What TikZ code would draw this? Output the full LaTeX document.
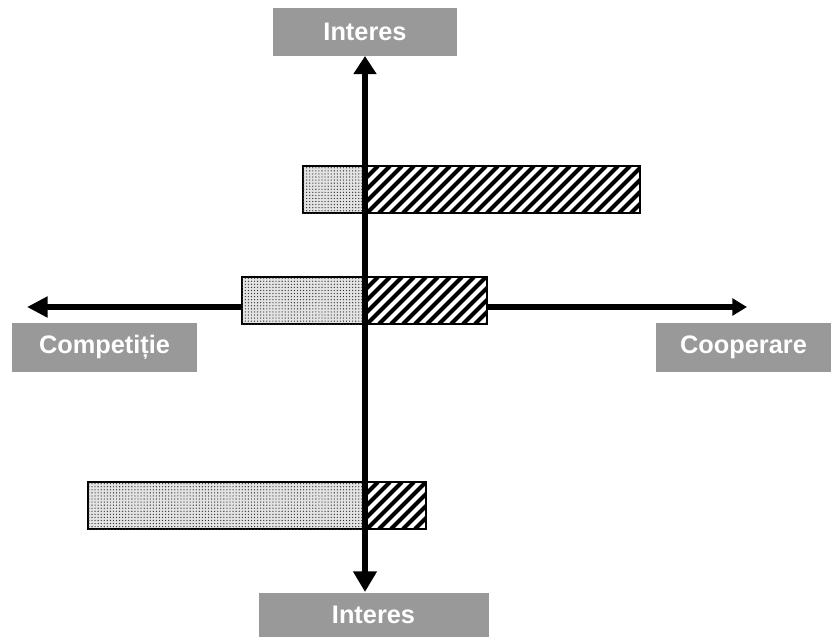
\documentclass[tikz,border=0pt]{standalone}
\usepackage{fontspec}
\setmainfont{Liberation Sans}
\usetikzlibrary{arrows.meta,patterns.meta}
\definecolor{labelgray}{RGB}{153,153,153}
\tikzset{
  labelbox/.style={fill=labelgray, text=white, inner sep=0pt,
    font=\bfseries\fontsize{19}{22}\selectfont},
  axisline/.style={line width=5.2pt},
  barframe/.style={draw=black, line width=0.9pt},
  dotbar/.style={barframe, fill=gray!22,
    postaction={pattern={Dots[distance=2.3pt,radius=0.5pt]}, pattern color=black!80}},
  stripe/.style={line width=3.1pt, line cap=butt, black},
}
% striped rectangle: #1,#2 = left/top corner, #3,#4 = right/bottom corner (px units)
\newcommand{\stripedrect}[4]{%
  \pgfmathsetmacro{\barh}{#4-#2}%
  \pgfmathsetmacro{\barw}{#3-#1}%
  \pgfmathsetmacro{\sstart}{-\barh-12}%
  \pgfmathsetmacro{\snext}{\sstart+12}%
  \begin{scope}
    \clip (#1,#2) rectangle (#3,#4);
    \fill[white] (#1,#2) rectangle (#3,#4);
    \foreach \s in {\sstart,\snext,...,\barw}
      \draw[stripe] ({#1+\s},{#4}) -- ({#1+\s+\barh},{#2});
  \end{scope}
  \draw[barframe] (#1,#2) rectangle (#3,#4);%
}
\begin{document}
\begin{tikzpicture}[x=0.75pt,y=-0.75pt]
  \useasboundingbox (0,0) rectangle (831,637);

  % axis labels
  \node[labelbox, minimum width=138pt, minimum height=36pt] (top) at (365,32) {Interes};
  \node[labelbox, minimum width=172.5pt, minimum height=33pt] (bottom) at (373.5,615) {Interes};
  \node[labelbox, minimum width=138.75pt, minimum height=36.75pt] (comp) at (104.5,347) {Competiție};
  \node[labelbox, minimum width=131.25pt, minimum height=36.75pt] (coop) at (743.5,347) {Cooperare};

  % axis end points
  \coordinate (up) at (365,56);
  \coordinate (down) at (365,592);
  \coordinate (left) at (27,307);
  \coordinate (right) at (747,307);

  % horizontal axis
  \draw[axisline, {Triangle[length=15.5pt,width=15pt]}-{Triangle[length=11pt,width=12.5pt]}]
    (left) -- (right);

  % bars: dotted part left of the vertical axis, striped part right of it
  \draw[dotbar] (303,166) rectangle (366,213);
  \stripedrect{366}{166}{640}{213}
  \draw[dotbar] (242,277) rectangle (366,324);
  \stripedrect{366}{277}{487}{324}
  \draw[dotbar] (88,482) rectangle (366,529);
  \stripedrect{366}{482}{426}{529}

  % vertical axis
  \draw[axisline, {Triangle[length=15.5pt,width=17pt]}-{Triangle[length=13.5pt,width=16.5pt]}]
    (down) -- (up);
\end{tikzpicture}
\end{document}
